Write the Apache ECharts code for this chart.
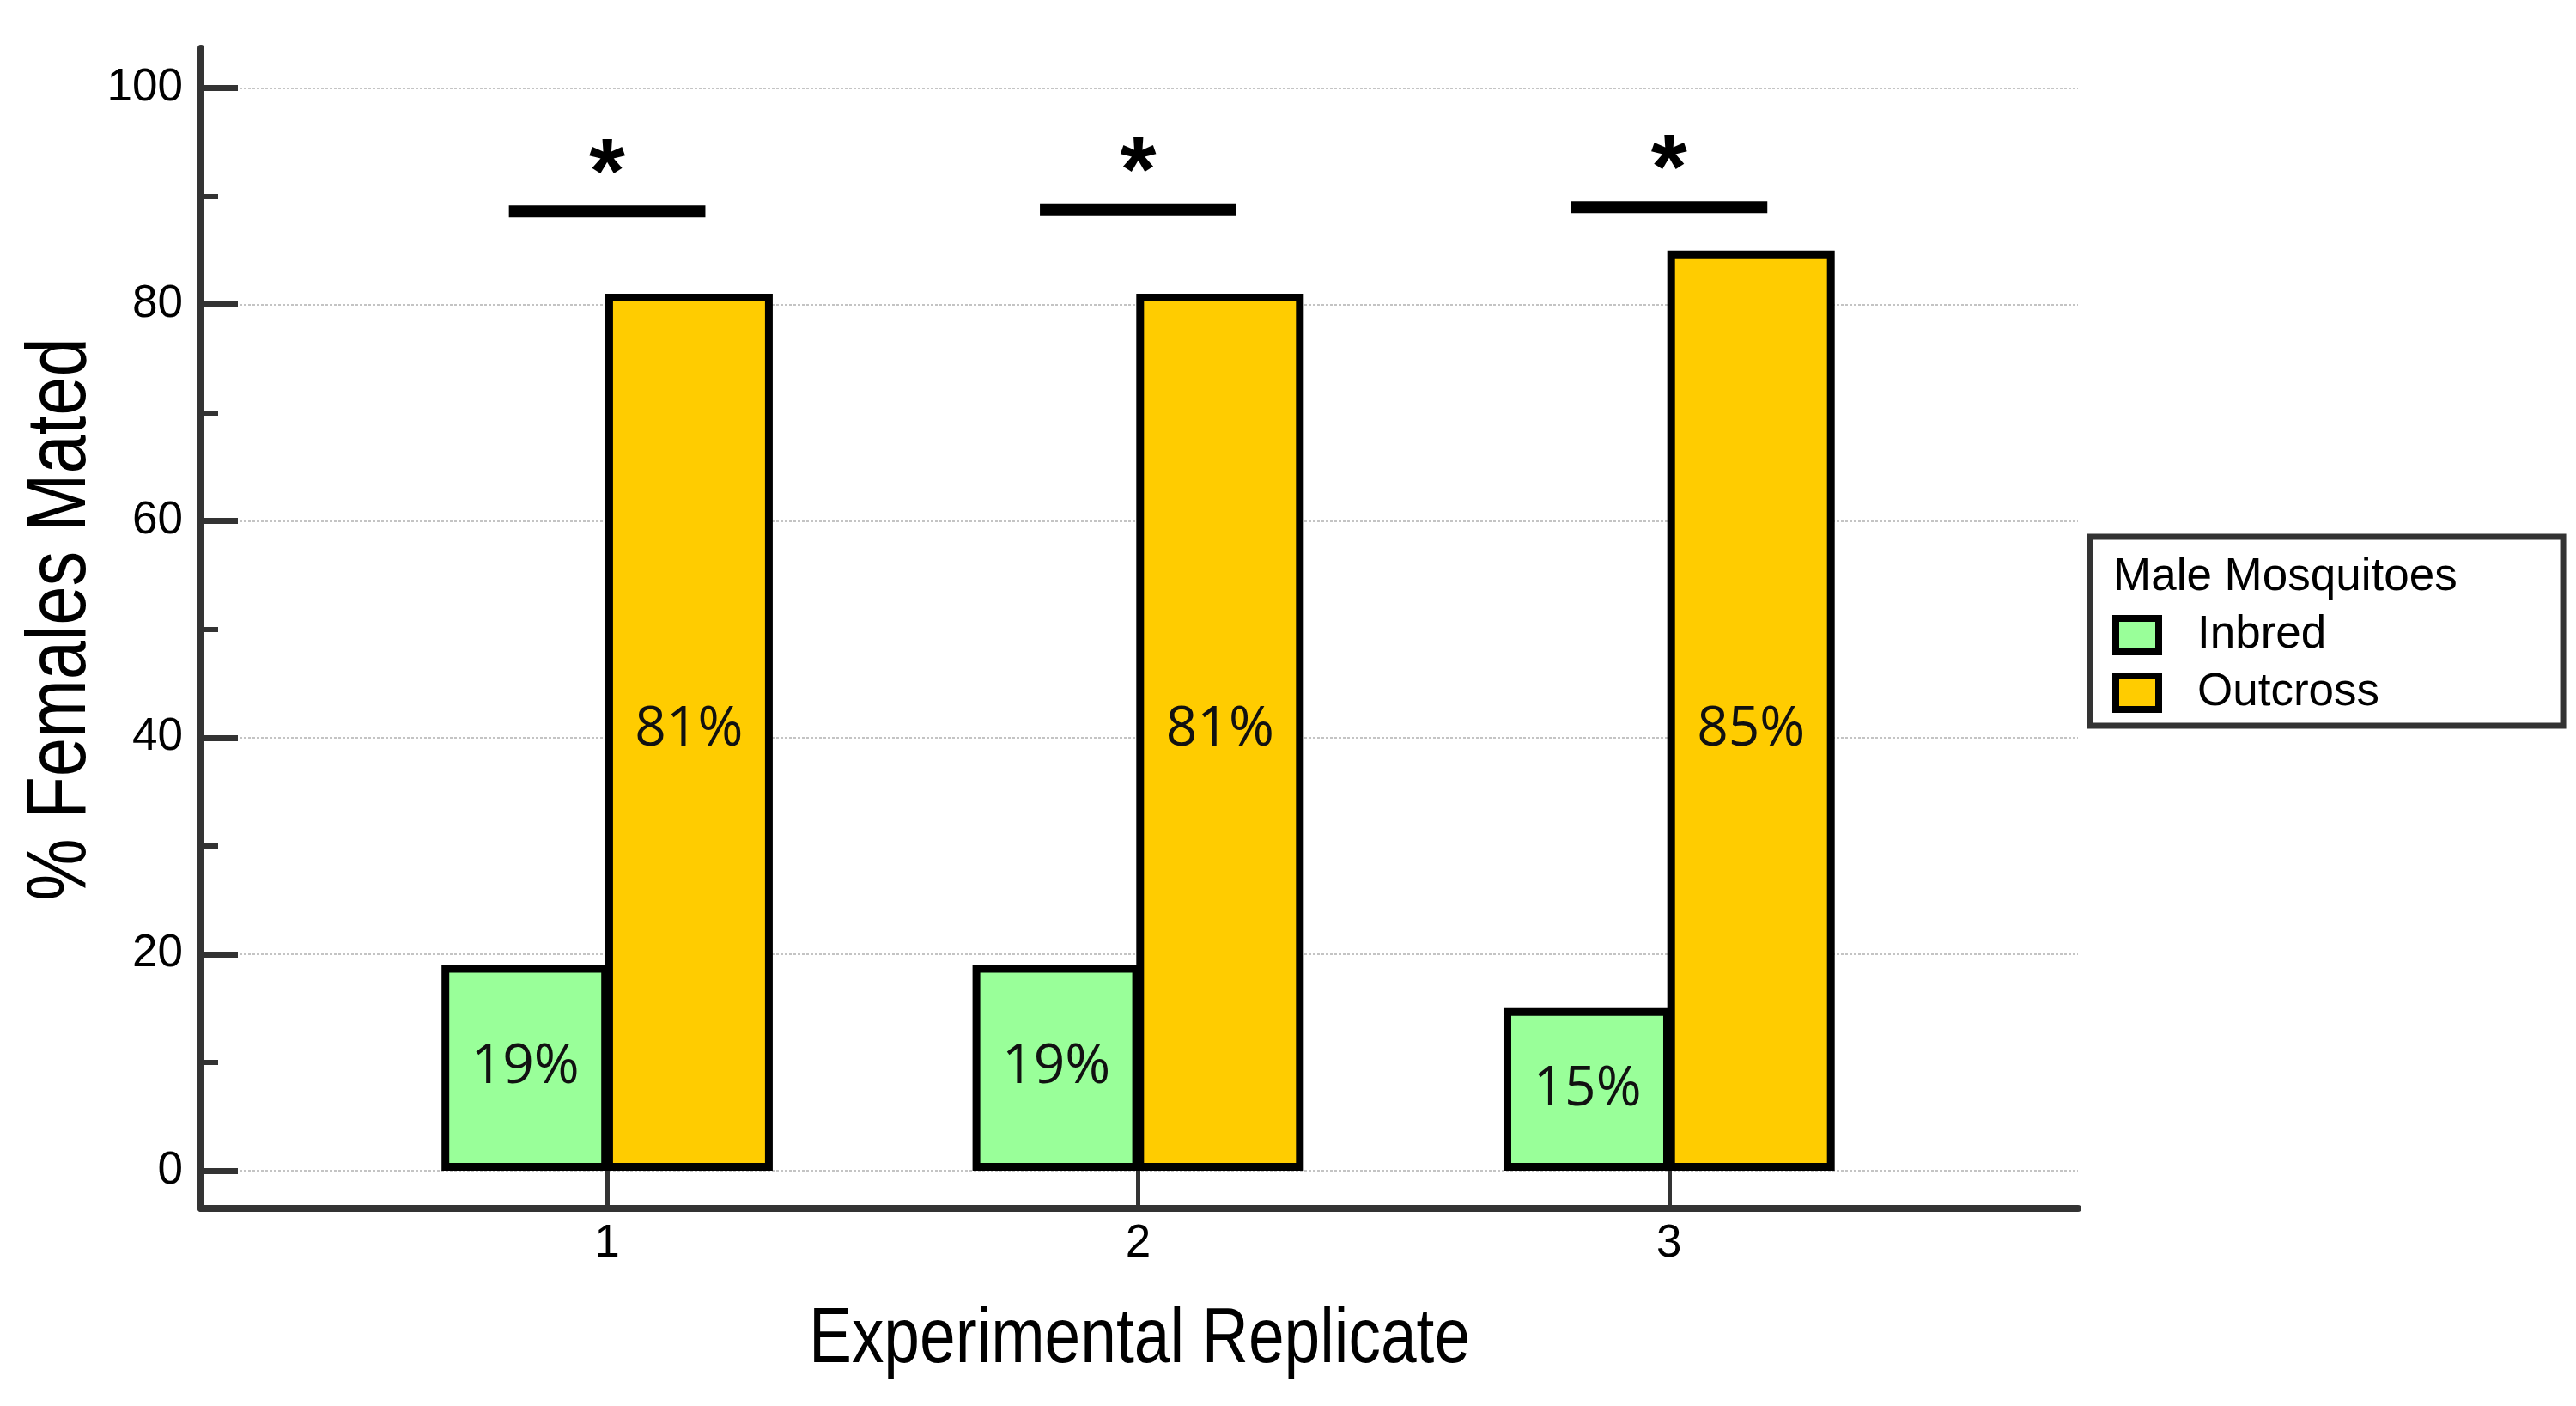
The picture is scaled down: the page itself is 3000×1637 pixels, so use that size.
<!DOCTYPE html>
<html><head><meta charset="utf-8">
<script src="https://cdn.jsdelivr.net/npm/echarts@6/dist/echarts.min.js"></script>
<style>html,body{margin:0;padding:0;background:#fff}#c{width:3000px;height:1637px}</style>
</head><body><div id="c"></div>
<script>
const replicates = [1, 2, 3];
const inbred = [19, 19, 15];
const outcross = [81, 81, 85];
const sigLineY = [88.6, 88.8, 89.0];
const sigMarks = ['*', '*', '*'];
const yMajorTicks = [0, 20, 40, 60, 80, 100];
const yMinorTicks = [10, 30, 50, 70, 90];
const seriesNames = ['Inbred', 'Outcross'];
const legendTitle = 'Male Mosquitoes';
const xTitle = 'Experimental Replicate';
const yTitle = '% Females Mated';

const SANS = '"Liberation Sans",Arial,sans-serif';
const AX = '#333333';
const GRID = {left: 234, right: 580, top: 56, bottom: 230};
const W = 3000, H = 1637;
const OUT_LABEL_LEVEL = 40.7;

const chart = echarts.init(document.getElementById('c'), null, {renderer: 'canvas'});

const labelFont = '"Open Sans","Noto Sans",sans-serif';

const option = {
  backgroundColor: '#ffffff',
  animation: false,
  title: {
    text: legendTitle, left: 2461, top: 646, padding: 0,
    textStyle: {fontSize: 53, fontWeight: 'normal', color: '#000', fontFamily: SANS}
  },
  legend: {
    orient: 'vertical', left: 2434, top: 625,
    padding: [88, 214, 12, 26],
    itemWidth: 50, itemHeight: 39, itemGap: 14,
    borderColor: AX, borderWidth: 7,
    icon: 'rect',
    itemStyle: {borderColor: '#000', borderWidth: 8},
    textStyle: {fontSize: 53, color: '#000', fontFamily: SANS, padding: [0, 0, 0, 40]},
    data: seriesNames
  },
  graphic: [{
    type: 'text', x: (GRID.left + (W - GRID.right)) / 2, y: 1561, scaleX: 0.823,
    style: {text: xTitle, font: '91px "Liberation Sans", Arial, sans-serif', fill: '#000',
            align: 'center', verticalAlign: 'middle'}
  }, {
    type: 'text', x: 72, y: 721, rotation: Math.PI / 2, scaleX: 0.83,
    style: {text: yTitle, font: '98px "Liberation Sans", Arial, sans-serif', fill: '#000',
            align: 'center', verticalAlign: 'middle'}
  }],
  grid: Object.assign({containLabel: false}, GRID),
  xAxis: {
    type: 'value', min: 0.235, max: 3.77,
    axisLine: {show: true, onZero: false, lineStyle: {color: AX, width: 8}},
    axisTick: {show: true, inside: true, length: 44, customValues: replicates, lineStyle: {color: AX, width: 5}},
    axisLabel: {show: true, customValues: replicates, margin: 15, fontSize: 53, color: '#000', fontFamily: SANS},
    splitLine: {show: false}
  },
  yAxis: [{
    type: 'value', min: -3.5, max: 103.7, position: 'left',
    axisLine: {show: true, onZero: false, lineStyle: {color: AX, width: 8}},
    axisTick: {show: true, inside: true, length: 43, customValues: yMajorTicks, lineStyle: {color: AX, width: 7}},
    axisLabel: {show: true, customValues: yMajorTicks, margin: 21, fontSize: 53, color: '#000', fontFamily: SANS},
    splitLine: {show: true, lineStyle: {color: '#c4c4c4', width: 2, type: [3, 2]}}
  }, {
    type: 'value', min: -3.5, max: 103.7, position: 'left', offset: 0,
    axisLine: {show: false},
    axisTick: {show: true, inside: true, length: 20, customValues: yMinorTicks, lineStyle: {color: AX, width: 6}},
    axisLabel: {show: false},
    splitLine: {show: false}
  }],
  series: [{
    name: seriesNames[0], type: 'bar', xAxisIndex: 0, yAxisIndex: 0,
    barWidth: 195, barGap: '-2.2%',
    itemStyle: {color: '#99ff99', borderColor: '#000', borderWidth: 9},
    label: {show: true, position: 'inside', color: '#111', fontSize: 64, fontFamily: labelFont,
            formatter: p => p.value[1] + '%'},
    data: replicates.map((r, i) => [r, inbred[i]])
  }, {
    name: seriesNames[1], type: 'bar', xAxisIndex: 0, yAxisIndex: 0,
    barWidth: 195, barGap: '-2.2%',
    itemStyle: {color: '#ffcc00', borderColor: '#000', borderWidth: 9},
    label: {show: true, color: '#111', fontSize: 64, fontFamily: labelFont,
            align: 'center', verticalAlign: 'middle',
            formatter: p => p.value[1] + '%'},
    data: replicates.map((r, i) => ({
      value: [r, outcross[i]],
      label: {position: ['50%', ((outcross[i] - OUT_LABEL_LEVEL) / outcross[i] * 100) + '%']}
    }))
  }, {
    type: 'custom', xAxisIndex: 0, yAxisIndex: 0, clip: false, silent: true,
    renderItem: function (params, api) {
      const x = api.value(0), y = api.value(1);
      const halfW = 0.185;
      const p1 = api.coord([x - halfW, y]);
      const p2 = api.coord([x + halfW, y]);
      return {
        type: 'group',
        children: [{
          type: 'rect',
          shape: {x: p1[0], y: p1[1] - 7, width: p2[0] - p1[0], height: 14},
          style: {fill: '#000'}
        }, {
          type: 'text',
          style: {
            text: sigMarks[params.dataIndex], x: (p1[0] + p2[0]) / 2, y: p1[1] - 40,
            align: 'center', verticalAlign: 'middle',
            font: 'bold 108px "Liberation Sans", Arial, sans-serif', fill: '#000'
          }
        }]
      };
    },
    data: replicates.map((r, i) => [r, sigLineY[i]])
  }]
};
chart.setOption(option);
</script>
</body></html>
